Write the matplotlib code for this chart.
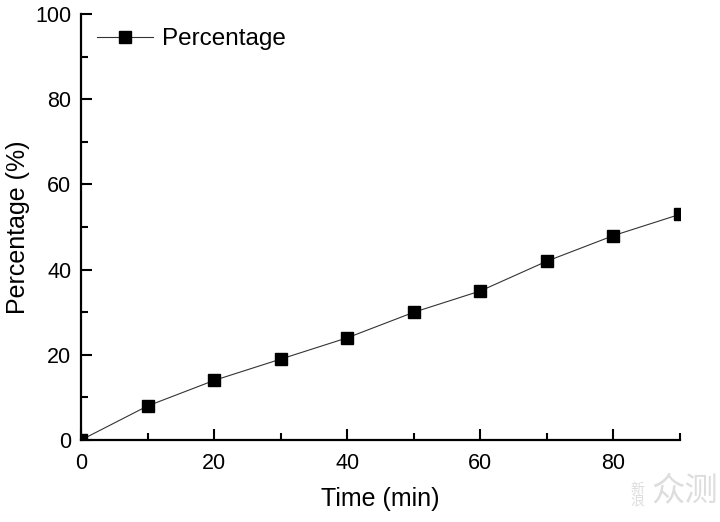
import matplotlib.pyplot as plt
from matplotlib.ticker import MultipleLocator

time_min = [0, 10, 20, 30, 40, 50, 60, 70, 80, 90]
percentage = [0, 8, 14, 19, 24, 30, 35, 42, 48, 53]

plt.rcParams["font.family"] = ["Liberation Sans", "DejaVu Sans"]

fig = plt.figure(figsize=(7.2, 5.22), dpi=100)
ax = fig.add_axes([0.1125, 0.157, 0.832, 0.816])

ax.plot(time_min, percentage, color="#333333", linewidth=0.8,
        marker="s", markersize=8.5, markerfacecolor="black",
        markeredgecolor="black", label="Percentage")

ax.set_xlim(0, 90)
ax.set_ylim(0, 100)
ax.xaxis.set_major_locator(MultipleLocator(20))
ax.xaxis.set_minor_locator(MultipleLocator(10))
ax.yaxis.set_major_locator(MultipleLocator(20))
ax.yaxis.set_minor_locator(MultipleLocator(10))

for side in ["top", "right"]:
    ax.spines[side].set_visible(False)
for side in ["left", "bottom"]:
    ax.spines[side].set_linewidth(1.6)

ax.tick_params(which="major", direction="in", length=8, width=1.5,
               labelsize=15.5)
ax.tick_params(axis="x", which="major", pad=9)
ax.tick_params(axis="y", which="major", pad=7)
ax.tick_params(which="minor", direction="in", length=5, width=1.5)

ax.set_xlabel("Time (min)", fontsize=18, labelpad=10)
ax.set_ylabel("Percentage (%)", fontsize=18)
ax.yaxis.set_label_coords(-0.085, 0.5)

ax.legend(loc="upper left", frameon=False, fontsize=17.5, handlelength=2.3,
          handletextpad=0.4, borderaxespad=0.0, bbox_to_anchor=(0.01, 0.99))

fig.text(0.885, 0.025, "新\n浪", fontsize=10, color="#dddddd", linespacing=0.95,
         family=["Noto Sans CJK SC"], ha="center", va="bottom")
fig.text(0.905, 0.027, "众测", fontsize=24, color="#dddddd",
         family=["Noto Sans CJK SC"], ha="left", va="bottom")

fig.savefig("out.png", dpi=100)
